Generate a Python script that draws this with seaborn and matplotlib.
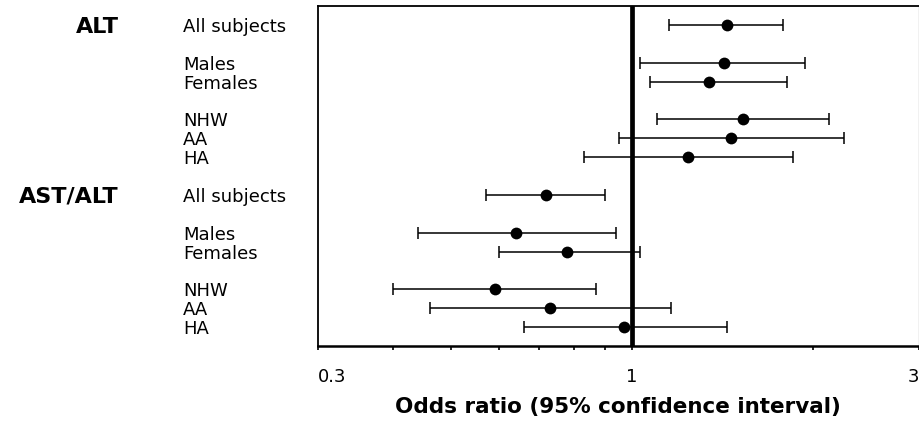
"""
Forest plot: odds ratios (95% CI) for ALT and AST/ALT by subgroup.
"""
import pandas as pd
import seaborn as sns
import matplotlib.pyplot as plt
from matplotlib.ticker import NullFormatter
from matplotlib.transforms import blended_transform_factory

# values
groups = ["ALT"] * 6 + ["AST/ALT"] * 6
subgroups = ["All subjects", "Males", "Females", "NHW", "AA", "HA"] * 2
subsets = ["All", "Sex", "Sex", "Ethnicity", "Ethnicity", "Ethnicity"] * 2
odds_ratio = [1.44, 1.42, 1.34, 1.53, 1.46, 1.24,
              0.72, 0.64, 0.78, 0.59, 0.73, 0.97]
ci_lower = [1.15, 1.03, 1.07, 1.10, 0.95, 0.83,
            0.57, 0.44, 0.60, 0.40, 0.46, 0.66]
ci_upper = [1.78, 1.94, 1.81, 2.13, 2.25, 1.85,
            0.90, 0.94, 1.03, 0.87, 1.16, 1.44]
tick_values = [0.3, 1, 3]
tick_labels = ["0.3", "1", "3"]
minor_values = [0.4, 0.5, 0.6, 0.7, 0.8, 0.9, 2]

df = pd.DataFrame({
    "group": groups, "subgroup": subgroups, "subset": subsets,
    "or": odds_ratio, "lo": ci_lower, "hi": ci_upper,
})

# row positions: one step inside a block, an extra blank row between blocks
ypos, y, prev = [], -1, None
for g, s in zip(df["group"], df["subset"]):
    key = (g, s)
    y += 1 if (prev is None or key == prev) else 2
    ypos.append(y)
    prev = key
df["y"] = ypos

sns.set_style("ticks")
plt.rcParams["font.family"] = ["DejaVu Sans"]
plt.rcParams["text.color"] = "black"
plt.rcParams["axes.labelcolor"] = "black"

fig = plt.figure(figsize=(9.2, 4.22), dpi=100)
ax = fig.add_axes([0.3457, 0.18, 0.653, 0.8057])
ax.set_xscale("log")

ax.axvline(1, color="black", lw=3.4, zorder=1)
ax.errorbar(df["or"], df["y"],
            xerr=[df["or"] - df["lo"], df["hi"] - df["or"]],
            fmt="none", ecolor="black", elinewidth=1.1,
            capsize=4.5, capthick=1.1, zorder=2)
sns.scatterplot(data=df, x="or", y="y", ax=ax, color="black",
                s=72, marker="o", linewidth=0, zorder=3)

ax.set_xlim(0.3, 3)
ax.set_ylim(df["y"].max() + 1, -1)
ax.set_xticks(tick_values)
ax.set_xticklabels(tick_labels, fontsize=13)
ax.set_xticks(minor_values, minor=True)
ax.xaxis.set_minor_formatter(NullFormatter())
labels = ax.get_xticklabels()
labels[0].set_ha("left")
labels[-1].set_ha("right")
ax.tick_params(axis="x", which="both", direction="out", length=3,
               width=1.2, pad=13, colors="black")
ax.set_yticks([])
ax.set_ylabel("")
ax.set_xlabel("Odds ratio (95% confidence interval)", fontsize=15.5,
              fontweight="bold", labelpad=8)

for side in ["left", "bottom", "right", "top"]:
    ax.spines[side].set_color("black")
    ax.spines[side].set_linewidth(1.3)
ax.spines["bottom"].set_linewidth(1.8)
ax.spines["right"].set_linewidth(0.8)

# subgroup and group labels to the left of the axes
trans = blended_transform_factory(fig.transFigure, ax.transData)
for _, row in df.iterrows():
    ax.text(183 / 920, row["y"], row["subgroup"], transform=trans,
            ha="left", va="center_baseline", fontsize=13)
first = df.groupby("group", sort=False)["y"].min()
for g, yv in first.items():
    ax.text(119 / 920, yv, g, transform=trans, ha="right",
            va="center_baseline", fontsize=16, fontweight="bold")

fig.savefig("out.png", dpi=100, facecolor="white")
